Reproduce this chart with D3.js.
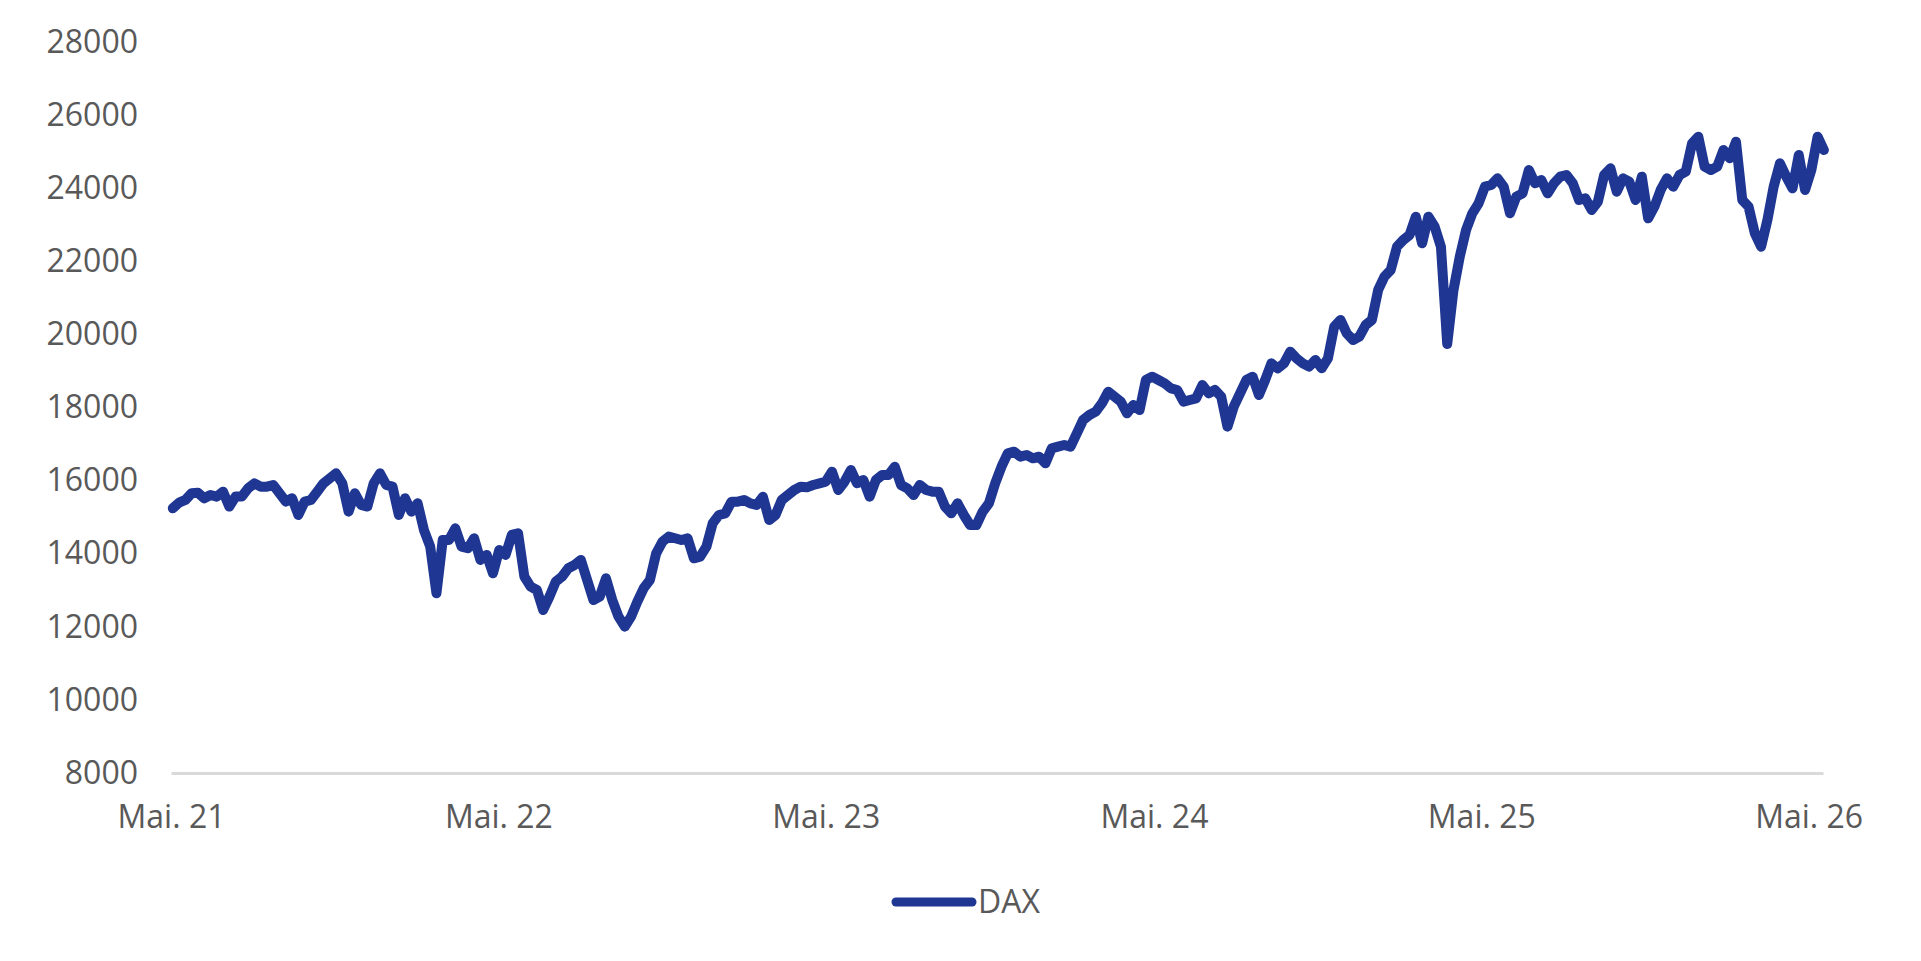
<!DOCTYPE html>
<html>
<head>
<meta charset="utf-8">
<script src="https://cdn.jsdelivr.net/npm/d3@7"></script>
<style>
	html, body { margin: 0; padding: 0; background: #fff; }
	svg { display: block; font-family: "Open Sans", sans-serif; }
</style>
</head>
<body>
<svg id="chart" width="1921" height="961"></svg>
<script>
// DAX, weekly closes (first week starting May 2021)
var startDate = new Date(2021, 4, 3);
var daxValues = [
	15242, 15397, 15470, 15653, 15670, 15516, 15607, 15562, 15698, 15290,
	15562, 15562, 15790, 15926, 15835, 15835, 15880, 15653, 15425, 15516,
	15060, 15425, 15470, 15698, 15926, 16063, 16200, 15926, 15151, 15653,
	15334, 15290, 15926, 16200, 15880, 15835, 15060, 15516, 15151, 15379,
	14650, 14194, 12917, 14376, 14376, 14695, 14194, 14148, 14422, 13829,
	13966, 13464, 14102, 13966, 14513, 14558, 13373, 13099, 13008, 12461,
	12826, 13236, 13373, 13601, 13692, 13829, 13282, 12734, 12826, 13327,
	12734, 12278, 12005, 12278, 12689, 13054, 13282, 14012, 14330, 14467,
	14422, 14376, 14422, 13874, 13920, 14194, 14832, 15059, 15104, 15424,
	15424, 15469, 15378, 15332, 15560, 14922, 15059, 15469, 15606, 15743,
	15834, 15816, 15880, 15925, 15971, 16244, 15743, 15971, 16290, 15925,
	16016, 15560, 16016, 16153, 16153, 16381, 15880, 15788, 15606, 15880,
	15743, 15697, 15697, 15287, 15104, 15378, 15059, 14785, 14785, 15150,
	15378, 15925, 16381, 16746, 16791, 16654, 16700, 16609, 16654, 16472,
	16882, 16928, 16974, 16928, 17293, 17658, 17794, 17886, 18114, 18433,
	18296, 18159, 17840, 18068, 17931, 18752, 18843, 18752, 18661, 18524,
	18479, 18159, 18205, 18250, 18615, 18387, 18479, 18296, 17476, 18022,
	18387, 18752, 18843, 18342, 18752, 19208, 19072, 19208, 19528, 19345,
	19208, 19117, 19300, 19072, 19345, 20212, 20394, 20029, 19847, 19938,
	20257, 20394, 21215, 21580, 21762, 22400, 22583, 22720, 23221, 22492,
	23221, 22947, 22400, 19737, 21215, 22127, 22856, 23312, 23586, 24042,
	24088, 24270, 24042, 23312, 23768, 23860, 24498, 24133, 24224, 23859,
	24133, 24315, 24361, 24133, 23677, 23723, 23404, 23631, 24361, 24543,
	23905, 24270, 24179, 23677, 24315, 23175, 23495, 23951, 24270, 24042,
	24361, 24452, 25227, 25410, 24589, 24498, 24589, 25045, 24817, 25273,
	23677, 23495, 22765, 22400, 23130, 24042, 24680, 24315, 23996, 24908,
	23951, 24498, 25410, 25045
];

var xTickDates = ['2021-05-01', '2022-05-01', '2023-05-01', '2024-05-01', '2025-05-01', '2026-05-01'];
var xTickLabels = ['Mai. 21', 'Mai. 22', 'Mai. 23', 'Mai. 24', 'Mai. 25', 'Mai. 26'];
var yTicks = [8000, 10000, 12000, 14000, 16000, 18000, 20000, 22000, 24000, 26000, 28000];
var seriesName = 'DAX';

var data = daxValues.map(function(v, i) {
	return { date: d3.timeWeek.offset(startDate, i), value: v };
});

var svg = d3.select('#chart');
var lineColor = '#1f3793',
	textColor = '#595959',
	fontSize = '32px';

var x = d3.scaleTime()
	.domain([new Date(2021, 4, 1), new Date(2026, 4, 17)])
	.range([171, 1823]);
var y = d3.scaleLinear()
	.domain([8000, 28000])
	.range([773, 42]);

// y axis (labels only)
var yAxis = svg.append('g')
	.attr('transform', 'translate(171,0)')
	.call(d3.axisLeft(y).tickValues(yTicks).tickSize(0).tickPadding(33).tickFormat(d3.format('d')));
yAxis.select('.domain').remove();
yAxis.selectAll('text')
	.attr('fill', textColor)
	.style('font-size', fontSize)
	.style('font-family', '"Open Sans", sans-serif');

// x axis
var xAxis = svg.append('g')
	.attr('transform', 'translate(0,773)')
	.call(d3.axisBottom(x)
		.tickValues(xTickDates.map(function(d) { return d3.timeParse('%Y-%m-%d')(d); }))
		.tickSize(0)
		.tickPadding(32)
		.tickFormat(function(d, i) { return xTickLabels[i]; }));
xAxis.select('.domain')
	.attr('stroke', '#d9d9d9')
	.attr('stroke-width', 3);
xAxis.selectAll('text')
	.attr('fill', textColor)
	.style('font-size', fontSize)
	.style('font-family', '"Open Sans", sans-serif');

// the line
var valueline = d3.line()
	.x(function(d) { return x(d.date); })
	.y(function(d) { return y(d.value); });

svg.append('path')
	.datum(data)
	.attr('fill', 'none')
	.attr('stroke', lineColor)
	.attr('stroke-width', 10)
	.attr('stroke-linejoin', 'round')
	.attr('stroke-linecap', 'round')
	.attr('d', valueline);

// legend
var legend = svg.append('g').attr('transform', 'translate(892,902)');
legend.append('line')
	.attr('x1', 4).attr('x2', 80)
	.attr('stroke', lineColor)
	.attr('stroke-width', 9)
	.attr('stroke-linecap', 'round');
legend.append('text')
	.attr('x', 86)
	.attr('dy', '0.35em')
	.attr('fill', textColor)
	.style('font-size', fontSize)
	.text(seriesName);
</script>
</body>
</html>
